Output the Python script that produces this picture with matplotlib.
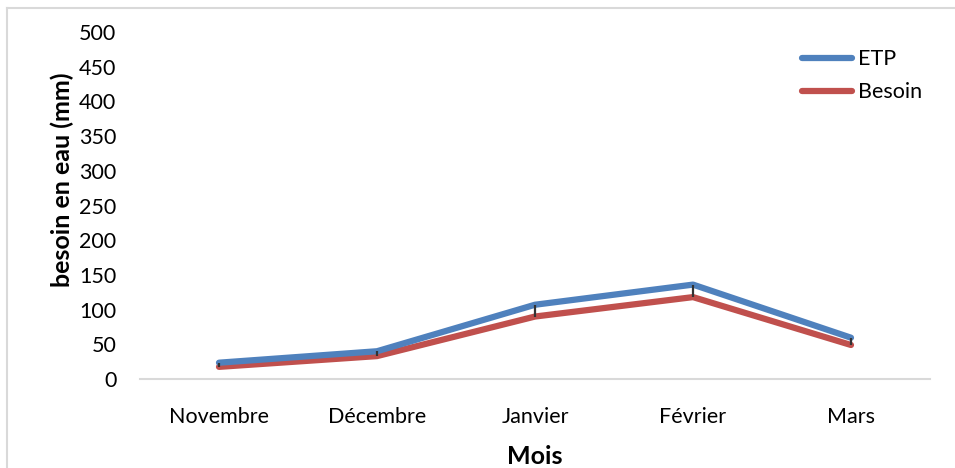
import matplotlib.pyplot as plt
from matplotlib.lines import Line2D

plt.rcParams["font.family"] = ["Lato", "DejaVu Sans"]

# monthly data (mm)
mois = ["Novembre", "Décembre", "Janvier", "Février", "Mars"]
etp = [23.5, 40, 107, 136, 59.5]
besoin = [17.5, 33, 90, 118, 49]
etp_err_bas = [6, 7, 17, 18, 10]

blue = "#4F81BD"
red = "#C0504D"

fig = plt.figure(figsize=(9.55, 4.68), dpi=100)
ax = fig.add_axes([140/955, 1-379/468, 790/955, 347/468])

x = range(len(mois))
ax.plot(x, etp, color=blue, lw=4.5, solid_capstyle="round", label="ETP", zorder=3)
ax.plot(x, besoin, color=red, lw=4.5, solid_capstyle="round", label="Besoin", zorder=2)
ax.errorbar(x, etp, yerr=[etp_err_bas, [0]*len(etp)], fmt="none",
            ecolor="#333333", elinewidth=1.6, capsize=0, zorder=4)

ax.set_xlim(-0.5, len(mois)-0.5)
ax.set_ylim(0, 500)
ax.set_yticks(range(0, 501, 50))
ax.set_xticks(list(x))
ax.set_xticklabels(mois)
ax.tick_params(axis="both", length=0, labelsize=15.5, colors="black")
ax.tick_params(axis="x", pad=20)
ax.tick_params(axis="y", pad=17)

for s in ["top", "right", "left"]:
    ax.spines[s].set_visible(False)
ax.spines["bottom"].set_color("#D9D9D9")
ax.spines["bottom"].set_linewidth(1.5)

fig.text(62/955, 1-180/468, "besoin en eau (mm)", rotation=90, fontsize=18,
         fontweight="bold", ha="center", va="center")
fig.text(535/955, 1-457/468, "Mois", fontsize=18, fontweight="bold",
         ha="center", va="center")

leg = ax.legend(loc="upper left", bbox_to_anchor=(783/955, 1-30/468),
                bbox_transform=fig.transFigure, frameon=False, fontsize=15.5,
                handlelength=2.3, handletextpad=0.3, labelspacing=0.6)

# chart frame (top and left edges)
fig.add_artist(Line2D([7/955, 1], [1-8/468, 1-8/468], color="#D9D9D9", lw=1.5,
                      transform=fig.transFigure))
fig.add_artist(Line2D([7/955, 7/955], [0, 1-8/468], color="#D9D9D9", lw=1.5,
                      transform=fig.transFigure))

fig.savefig("out.png", dpi=100)
